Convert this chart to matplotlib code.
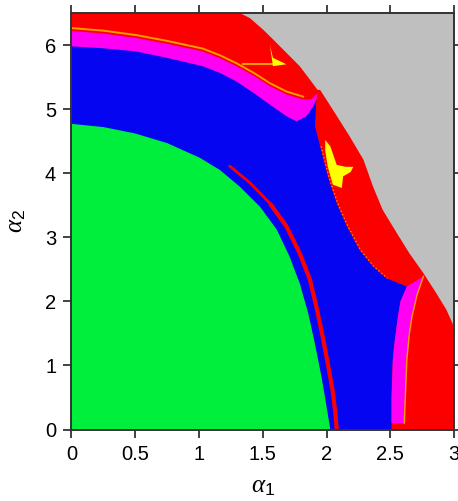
import numpy as np
import matplotlib
matplotlib.use("Agg")
import matplotlib.pyplot as plt

plt.rcParams['font.family'] = ['Liberation Sans', 'DejaVu Sans']
plt.rcParams['mathtext.fontset'] = 'custom'
plt.rcParams['mathtext.rm'] = 'Liberation Sans'
plt.rcParams['mathtext.it'] = 'Liberation Serif:italic'

# ---- region boundaries (alpha1, alpha2) ----
green_x = [0.0, 0.25, 0.5, 0.75, 1.007, 1.164, 1.32, 1.477, 1.61, 1.71, 1.79, 1.856, 1.908, 1.96, 2.0, 2.03]
green_y = [4.77, 4.72, 4.62, 4.47, 4.24, 4.05, 3.79, 3.48, 3.12, 2.70, 2.28, 1.82, 1.35, 0.83, 0.36, 0.0]

redline_x = [1.242, 1.40, 1.556, 1.686, 1.79, 1.87, 1.92, 1.97, 2.01, 2.047, 2.07, 2.08]
redline_y = [4.11, 3.85, 3.53, 3.17, 2.75, 2.34, 1.92, 1.45, 1.03, 0.62, 0.25, 0.0]

blue_top_x = [0.0, 0.25, 0.51, 0.75, 1.03, 1.17, 1.295, 1.43, 1.556, 1.686, 1.765, 1.843, 1.895, 1.92]
blue_top_y = [5.98, 5.95, 5.90, 5.80, 5.67, 5.56, 5.43, 5.25, 5.07, 4.89, 4.81, 4.89, 5.04, 5.15]

blue_right_x = [1.92, 1.91, 1.95, 2.01, 2.08, 2.16, 2.26, 2.365, 2.47, 2.57, 2.63]
blue_right_y = [5.15, 4.73, 4.42, 3.95, 3.53, 3.17, 2.80, 2.54, 2.36, 2.28, 2.23]

mag_top_x = [0.0, 0.25, 0.51, 0.75, 1.03, 1.17, 1.295, 1.43, 1.556, 1.686, 1.817, 1.88, 1.93]
mag_top_y = [6.22, 6.18, 6.11, 6.02, 5.90, 5.79, 5.67, 5.52, 5.36, 5.23, 5.15, 5.15, 5.25]

mag_low_left_x = [2.76, 2.63, 2.58, 2.56, 2.53, 2.52, 2.51, 2.51]
mag_low_left_y = [2.39, 2.23, 2.00, 1.76, 1.30, 1.09, 0.50, 0.10]
mag_low_right_x = [2.61, 2.62, 2.63, 2.65, 2.67, 2.71, 2.76]
mag_low_right_y = [0.10, 0.60, 1.09, 1.50, 1.76, 2.10, 2.39]

red_edge_x = [1.32, 1.40, 1.503, 1.58, 1.66, 1.79, 1.87, 1.93, 1.95, 2.05, 2.18, 2.29, 2.365, 2.44, 2.55, 2.65, 2.76, 2.86, 2.94, 2.99, 3.0]
red_edge_y = [6.5, 6.42, 6.24, 6.09, 5.93, 5.67, 5.46, 5.30, 5.30, 4.99, 4.58, 4.21, 3.79, 3.43, 3.07, 2.75, 2.44, 2.13, 1.87, 1.65, 1.50]

yellow1_x = [1.556, 1.58, 1.686, 1.58]
yellow1_y = [6.00, 5.80, 5.70, 5.67]
yellow2_x = [1.99, 2.03, 2.08, 2.15, 2.21, 2.19, 2.13, 2.12, 2.05, 2.01, 1.99]
yellow2_y = [4.52, 4.42, 4.13, 4.10, 4.10, 4.02, 3.95, 3.77, 3.82, 4.10, 4.35]

xticks = [0, 0.5, 1, 1.5, 2, 2.5, 3]
xticklabels = ['0', '0.5', '1', '1.5', '2', '2.5', '3']
yticks = [0, 1, 2, 3, 4, 5, 6]
yticklabels = ['0', '1', '2', '3', '4', '5', '6']

C_GRAY = '#bfbfbf'
C_RED = '#fc0000'
C_MAG = '#ff00f5'
C_BLUE = '#0505f2'
C_GREEN = '#00ef3c'
C_YEL = '#ffff00'
C_ORA = '#ff9a00'

fig = plt.figure(figsize=(4.58, 5.01), dpi=100)
ax = fig.add_axes([0.1561, 0.1427, 0.8352, 0.8313])
ax.set_facecolor(C_GRAY)

# red region (below the red/gray edge)
rx = np.concatenate([[0, 0], red_edge_x, [3.0]])
ry = np.concatenate([[0, 6.5], red_edge_y, [0]])
ax.fill(rx, ry, color=C_RED, lw=0, zorder=1)

# upper magenta band
mx = np.concatenate([[0], mag_top_x, [1.90, 1.88]])
my = np.concatenate([[0], mag_top_y, [4.95, 0]])
ax.fill(mx, my, color=C_MAG, lw=0, zorder=2)

# blue region
bx = np.concatenate([[0], blue_top_x, blue_right_x[1:], mag_low_left_x[2:], [2.51]])
by = np.concatenate([[0], blue_top_y, blue_right_y[1:], mag_low_left_y[2:], [0.0]])
ax.fill(bx, by, color=C_BLUE, lw=0, zorder=3)

# lower magenta band
lx = np.concatenate([mag_low_left_x, mag_low_right_x])
ly = np.concatenate([mag_low_left_y, mag_low_right_y])
ax.fill(lx, ly, color=C_MAG, lw=0, zorder=4)

# green region
gx = np.concatenate([[0], green_x])
gy = np.concatenate([[0], green_y])
ax.fill(gx, gy, color=C_GREEN, lw=0, zorder=5)

# thin red curve (thinner at its upper end)
ax.plot(redline_x[:3], redline_y[:3], color=C_RED, lw=2.0, solid_capstyle='round', zorder=6)
ax.plot(redline_x[2:], redline_y[2:], color=C_RED, lw=3.0, solid_capstyle='butt', zorder=6)

# orange fringes
ax.plot(np.array(mag_top_x[:-2]), np.array(mag_top_y[:-2]) + 0.045, color=C_ORA, lw=1.4, zorder=6)
ax.plot(mag_low_right_x, mag_low_right_y, color=C_ORA, lw=1.0, zorder=6)
ax.plot(np.array(blue_right_x[2:-2]) + 0.008, blue_right_y[2:-2], color=C_ORA, lw=0.9, ls=(0, (1, 2)), zorder=6)
ax.plot([1.345, 1.58], [5.70, 5.70], color=C_ORA, lw=1.5, zorder=6)

# yellow patches
ax.fill(yellow1_x, yellow1_y, color=C_YEL, lw=0, zorder=7)
ax.fill(yellow2_x, yellow2_y, color=C_YEL, lw=0, zorder=7)

ax.set_xlim(0, 3)
ax.set_ylim(0, 6.5)
ax.set_xticks(xticks)
ax.set_xticklabels(xticklabels)
ax.set_yticks(yticks)
ax.set_yticklabels(yticklabels)
ax.tick_params(direction='out', length=6, width=1.3, labelsize=14.5, top=True, right=True,
               color='#333333', pad=5)
for s in ax.spines.values():
    s.set_linewidth(1.4)
    s.set_color('#333333')
    s.set_zorder(10)

ax.set_xlabel(r'$\alpha_1$', fontsize=18, labelpad=7)
ax.set_ylabel(r'$\alpha_2$', fontsize=18, labelpad=12)

fig.savefig('out.png', dpi=100)
